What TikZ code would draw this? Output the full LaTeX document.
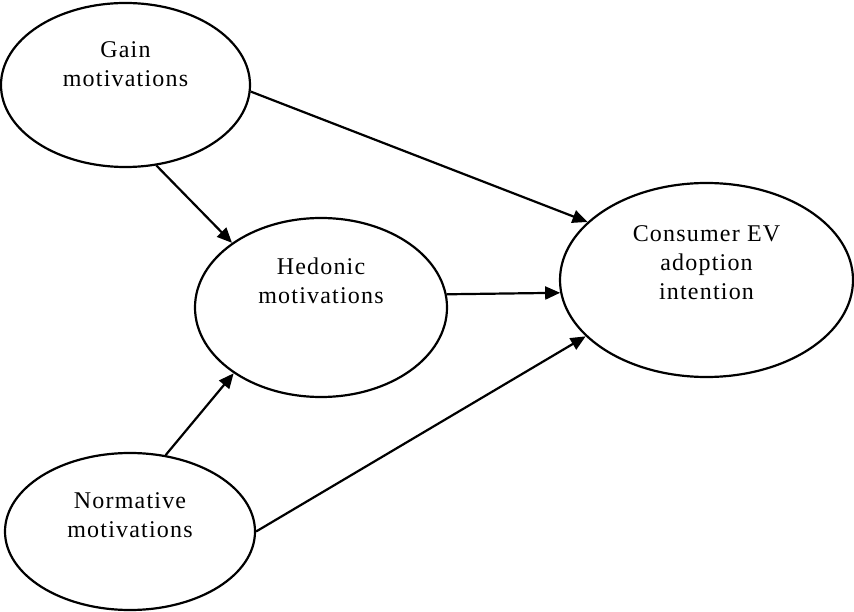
\documentclass[tikz,border=0pt]{standalone}
\usepackage{fontspec}
\setmainfont{Liberation Serif}[LetterSpace=5]
\usetikzlibrary{shapes.geometric,arrows.meta}
\begin{document}
\begin{tikzpicture}[x=1pt, y=-1pt, line join=round, >={Triangle[length=15pt,width=13pt]},
	motive/.style={draw, ellipse, line width=2.2pt, inner sep=0pt},
	caption/.style={align=center, anchor=base, font=\fontsize{24}{29}\selectfont},
	link/.style={->, line width=2.2pt}]
	\useasboundingbox (0,0) rectangle (854,612);
	% constructs
	\node[motive, minimum width=249, minimum height=164] (gain) at (125.5,85) {};
	\node[motive, minimum width=252, minimum height=179] (hedonic) at (321,307.5) {};
	\node[motive, minimum width=293, minimum height=194] (adoption) at (706.5,280) {};
	\node[motive, minimum width=250, minimum height=157] (normative) at (130,531.5) {};
	\node[caption] (gaintext) at (125.5,87) {Gain\\motivations};
	\node[caption] (hedonictext) at (321,304) {Hedonic\\motivations};
	\node[caption] (adoptiontext) at (706.5,300) {Consumer EV\\adoption\\intention};
	\node[caption] (normativetext) at (130,537) {Normative\\motivations};
	% paths
	\draw[link] (gain.-3.7) -- (adoption.154.5);
	\draw[link] (gain.-69.5) -- (hedonic.144);
	\draw[link] (hedonic.6.6) -- (adoption.-175.3);
	\draw[link] (normative.65.4) -- (hedonic.-143.2);
	\draw[link] (normative.0) -- (adoption.-155.6);
\end{tikzpicture}
\end{document}
